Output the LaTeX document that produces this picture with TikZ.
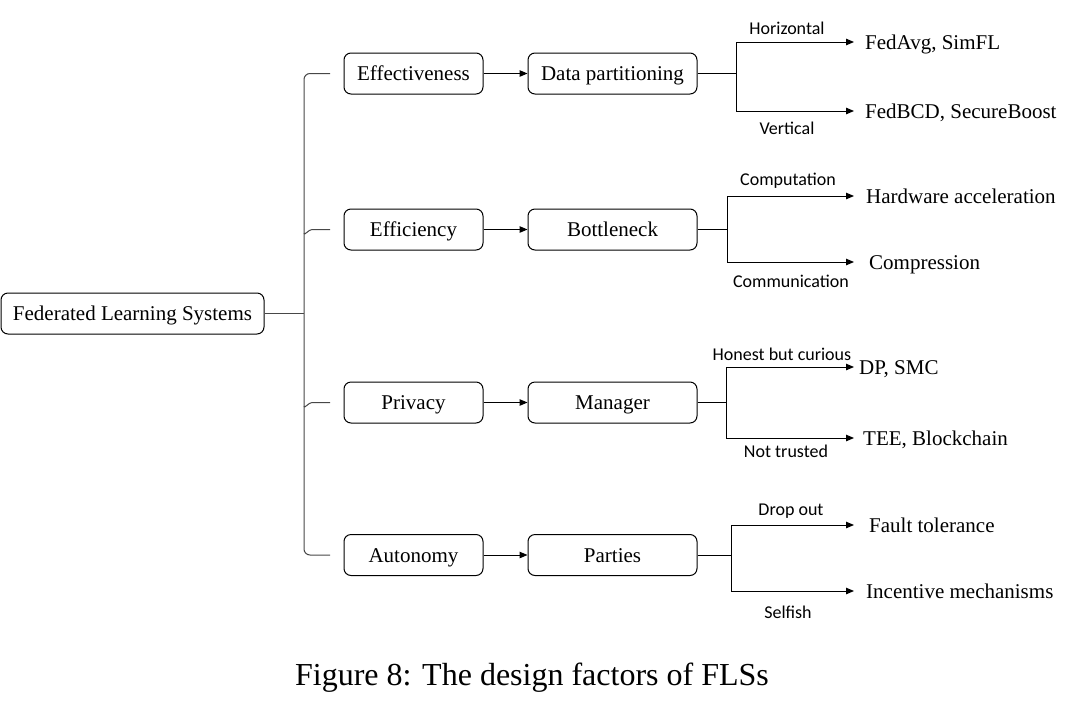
\documentclass[tikz,border=0pt]{standalone}
\usepackage{fontspec}
\setmainfont{Liberation Serif}
\newfontfamily\labfont{Carlito}
\usetikzlibrary{arrows.meta}
\begin{document}
\begin{tikzpicture}[x=1pt,y=-1pt,
 box/.style={draw, rounded corners=7pt, line width=1pt, minimum height=41pt, inner sep=0pt, text height=16.5pt, text depth=2pt, font=\fontsize{21}{25}\selectfont},
 leaf/.style={anchor=west, inner ysep=0pt, text height=16.5pt, text depth=2pt, font=\fontsize{21}{25}\selectfont},
 lab/.style={font=\labfont\fontsize{18}{21}\selectfont, inner sep=0pt},
 conn/.style={line width=1pt},
 arr/.style={line width=1pt, -{Triangle[length=8pt,width=6.5pt]}},
 tree/.style={line width=1pt, draw=black!72}]
\useasboundingbox (0,0) rectangle (1074,710);

% root and level boxes
\node[box, minimum width=263pt] (root) at (132.5,313.5) {Federated Learning Systems};
\node[box, minimum width=139pt] (e1) at (413.5,73.5) {Effectiveness};
\node[box, minimum width=139pt] (e2) at (413.5,229.5) {Efficiency};
\node[box, minimum width=139pt] (e3) at (413.5,402.5) {Privacy};
\node[box, minimum width=139pt] (e4) at (413.5,555) {Autonomy};
\node[box, minimum width=169pt] (d1) at (612.5,73.5) {Data partitioning};
\node[box, minimum width=169pt] (d2) at (612.5,229.5) {Bottleneck};
\node[box, minimum width=169pt] (d3) at (612.5,402.5) {Manager};
\node[box, minimum width=169pt] (d4) at (612.5,555) {Parties};

% trunk
\coordinate (tj) at (304,313.5);
\coordinate (ttop) at (304,73.5);
\coordinate (tbot) at (304,555);
\coordinate (s1) at (330,73.5);
\coordinate (s4) at (330,555);
\coordinate (m2) at (304,233);
\coordinate (n2) at (312,229.5);
\coordinate (s2) at (330,229.5);
\coordinate (m3) at (304,406);
\coordinate (n3) at (312,402.5);
\coordinate (s3) at (330,402.5);
\draw[tree] (root.east) -- (tj);
\draw[tree, rounded corners=6pt] (s1) -- (ttop) -- (tbot) -- (s4);
\draw[tree] (m2) to[out=-90,in=180] (n2) -- (s2);
\draw[tree] (m3) to[out=-90,in=180] (n3) -- (s3);

% level arrows
\foreach \i in {1,2,3,4}{\draw[arr] (e\i.east) -- (d\i.west);}

% leaves
\node[leaf, inner xsep=11pt] (a1) at (854,42) {FedAvg, SimFL};
\node[leaf, inner xsep=11pt] (b1) at (854,111) {FedBCD, SecureBoost};
\node[leaf, inner xsep=12pt] (a2) at (854,196) {Hardware acceleration};
\node[leaf, inner xsep=15pt] (b2) at (854,262) {Compression};
\node[leaf, inner xsep=5pt] (a3) at (854,367) {DP, SMC};
\node[leaf, inner xsep=9pt] (b3) at (854,438) {TEE, Blockchain};
\node[leaf, inner xsep=15pt] (a4) at (854,525) {Fault tolerance};
\node[leaf, inner xsep=12pt] (b4) at (854,591) {Incentive mechanisms};

% splits
\coordinate (j1) at (736,73.5);
\coordinate (j2) at (727,229.5);
\coordinate (j3) at (726,402.5);
\coordinate (j4) at (731,555);
\foreach \i in {1,2,3,4}{
  \draw[conn] (d\i.east) -- (j\i);
  \draw[arr] (j\i) |- (a\i.west);
  \draw[arr] (j\i) |- (b\i.west);
}

% labels
\node[lab] (h1) at (787,28) {Horizontal};
\node[lab] (v1) at (787,128) {Vertical};
\node[lab] (h2) at (788,181) {Computation};
\node[lab] (v2) at (791,281) {Communication};
\node[lab] (h3) at (782,354) {Honest but curious};
\node[lab] (v3) at (786,451) {Not trusted};
\node[lab] (h4) at (791,511) {Drop out};
\node[lab] (v4) at (788,612) {Selfish};

% caption
\node[font=\fontsize{32}{38}\selectfont, inner sep=0pt] (cap) at (532,678) {Figure 8: The design factors of FLSs};
\end{tikzpicture}
\end{document}
